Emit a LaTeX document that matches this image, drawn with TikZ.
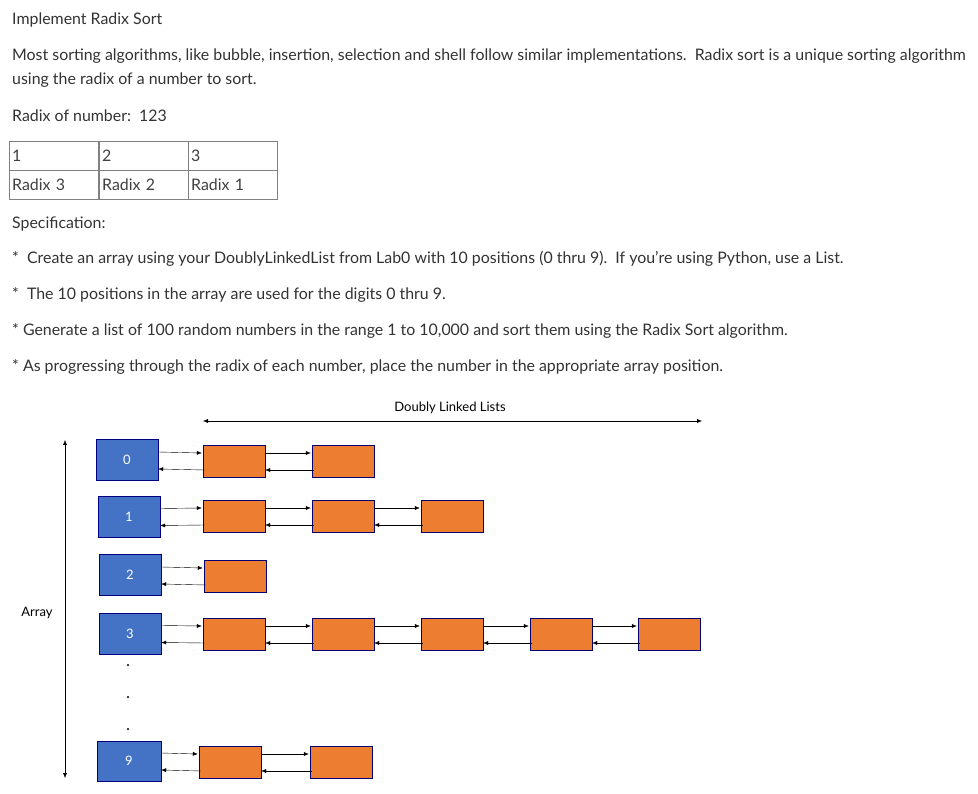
\documentclass[tikz,border=0pt]{standalone}
\usepackage{fontspec}
\setmainfont{Lato}
\usetikzlibrary{arrows.meta}
\begin{document}
\begin{tikzpicture}[x=1pt,y=-1pt,
  txt/.style={anchor=west,inner sep=0pt,font=\fontsize{15.9}{18}\selectfont,text=black!80},
  cell/.style={draw=black!50,minimum width=89pt,minimum height=29pt,anchor=north west,inner sep=3pt,text=black!75,font=\fontsize{15.9}{18}\selectfont,align=left,text width=83pt},
  bluebox/.style={draw=blue!50!black,minimum width=62pt,minimum height=41pt,text=white,font=\fontsize{13}{15}\selectfont,inner sep=0pt},
  orbox/.style={draw=blue!45!black,minimum width=62pt,minimum height=32pt,inner sep=0pt},
  fw/.style={-{Latex[length=5pt,width=4pt]},thin},
  lab/.style={font=\fontsize{13}{15}\selectfont,inner sep=0pt}]
\useasboundingbox[fill=white] (0,0) rectangle (978,794);
\definecolor{bb}{HTML}{4472C4}\definecolor{ob}{HTML}{ED7D31}
\tikzset{bluebox/.append style={fill=bb},orbox/.append style={fill=ob}}
\node[txt] (t1) at (12,20) {Implement Radix Sort};
\node[txt] (t2) at (12,56) {Most sorting algorithms, like bubble, insertion, selection and shell follow similar implementations.\ \ Radix sort is a unique sorting algorithm};
\node[txt] (t3) at (12,80) {using the radix of a number to sort.};
\node[txt] (t4) at (12,116) {Radix of number:\ \ 123};
\node[cell] (c1) at (9,141) {1};
\node[cell] (c2) at (99,141) {2};
\node[cell] (c3) at (188,141) {3};
\node[cell] (d1) at (9,170) {Radix 3};
\node[cell] (d2) at (99,170) {Radix 2};
\node[cell] (d3) at (188,170) {Radix 1};
\node[txt] (s0) at (12,224) {Specification:};
\node[txt] (s1) at (12,259) {*\ \ Create an array using your DoublyLinkedList from Lab0 with 10 positions (0 thru 9).\ \ If you're using Python, use a List.};
\node[txt] (s2) at (12,295) {*\ \ The 10 positions in the array are used for the digits 0 thru 9.};
\node[txt] (s3) at (12,331) {* Generate a list of 100 random numbers in the range 1 to 10,000 and sort them using the Radix Sort algorithm.};
\node[txt] (s4) at (12,367) {* As progressing through the radix of each number, place the number in the appropriate array position.};
% diagram
\node[lab] (dll) at (450,408) {Doubly Linked Lists};
\coordinate (ta) at (203,421); \coordinate (tb) at (702,421);
\draw[{Latex[length=5pt,width=4pt]}-{Latex[length=5pt,width=4pt]},thin] (ta) -- (tb);
\node[lab] (arr) at (37,613) {Array};
\coordinate (sa) at (65,440); \coordinate (sb) at (65,778);
\draw[{Latex[length=5pt,width=4pt]}-{Latex[length=5pt,width=4pt]},thin] (sa) -- (sb);
\node[bluebox] (b0) at (127,460) {0};
\node[bluebox] (b1) at (129,516.5) {1};
\node[bluebox] (b2) at (130,575) {2};
\node[bluebox] (b3) at (130,633.5) {3};
\node[bluebox,minimum width=64pt,minimum height=40pt] (b9) at (129,761) {9};
\foreach \y in {665,697,729} \fill (128,\y) circle (1.2pt);
\node[orbox] (o01) at (234,461) {};
\node[orbox] (o02) at (343,461) {};
\node[orbox] (o11) at (234,516) {};
\node[orbox] (o12) at (343,516) {};
\node[orbox] (o13) at (452,516) {};
\node[orbox] (o21) at (235,576) {};
\node[orbox] (o31) at (234,634) {};
\node[orbox] (o32) at (343,634) {};
\node[orbox] (o33) at (452,634) {};
\node[orbox] (o34) at (561,634) {};
\node[orbox] (o35) at (669,634) {};
\node[orbox] (o91) at (230,762) {};
\node[orbox] (o92) at (341,762) {};
\foreach \a/\b in {b0/o01,o01/o02,b1/o11,o11/o12,o12/o13,b2/o21,b3/o31,o31/o32,o32/o33,o33/o34,o34/o35,b9/o91,o91/o92}{
  \draw[fw] ([yshift=8pt]\a.east) -- ([yshift=8pt,xshift=-1pt]\b.west);
  \draw[fw] ([yshift=-9pt,xshift=2pt]\b.west) -- ([yshift=-9pt]\a.east);
}
\end{tikzpicture}
\end{document}
